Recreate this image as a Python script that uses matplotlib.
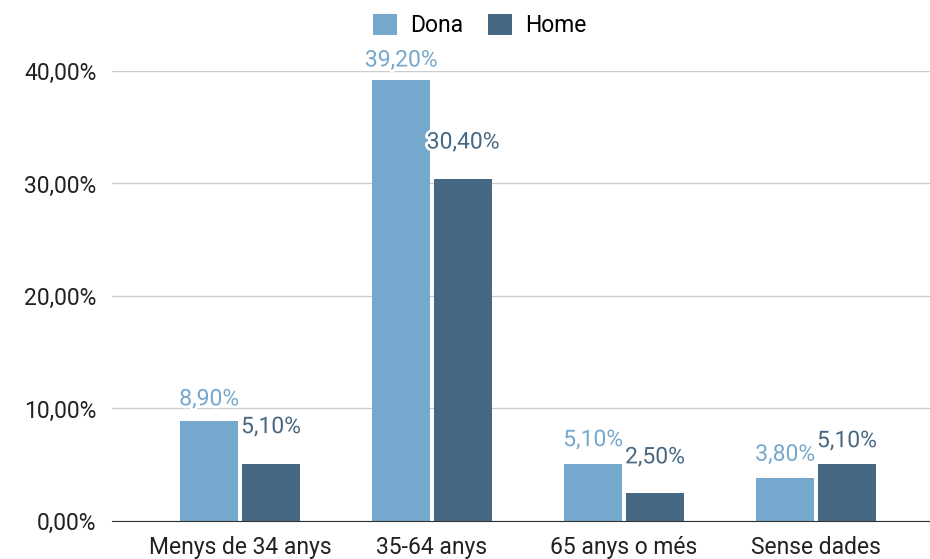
import matplotlib.pyplot as plt
import matplotlib.patheffects as pe
import numpy as np

plt.rcParams['font.family'] = ['Roboto', 'DejaVu Sans']

categories = ['Menys de 34 anys', '35-64 anys', '65 anys o més', 'Sense dades']
dona = [8.9, 39.2, 5.1, 3.8]
home = [5.1, 30.4, 2.5, 5.1]
# label offsets above bar tops (pixels), as placed in the original
dona_off = [22, 20, 24, 24]
home_off = [37, 37, 36, 23]

c_dona = '#76a7cc'
c_home = '#466883'
fs = 16.5

fig = plt.figure(figsize=(9.3, 5.59), dpi=100)
ax = fig.add_axes([0.1204, 0.068, 0.8796, 0.805])

x = np.arange(len(categories))
w = 0.302
off = 0.161
ax.bar(x - off, dona, w, color=c_dona, label='Dona', zorder=2)
ax.bar(x + off, home, w, color=c_home, label='Home', zorder=2)

outline = [pe.withStroke(linewidth=4, foreground='white')]
for i in range(len(categories)):
    ax.annotate(f'{dona[i]:.2f}%'.replace('.', ','), (x[i] - off, dona[i]),
                xytext=(0, dona_off[i] * 0.72), textcoords='offset points',
                ha='center', va='center', color=c_dona, fontsize=fs,
                path_effects=outline, zorder=4, annotation_clip=False)
    ax.annotate(f'{home[i]:.2f}%'.replace('.', ','), (x[i] + off, home[i]),
                xytext=(0, home_off[i] * 0.72), textcoords='offset points',
                ha='center', va='center', color=c_home, fontsize=fs,
                path_effects=outline, zorder=4, annotation_clip=False)

ax.set_ylim(0, 40)
ax.set_xlim(-0.667, 3.594)
ax.set_yticks([0, 10, 20, 30, 40])
ax.set_yticklabels(['0,00%', '10,00%', '20,00%', '30,00%', '40,00%'])
ax.set_xticks(x)
ax.set_xticklabels(categories)
ax.tick_params(axis='both', length=0, labelsize=fs, colors='#222222')
ax.tick_params(axis='x', pad=11)
ax.tick_params(axis='y', pad=11)
ax.grid(axis='y', color='#cccccc', linewidth=1, zorder=0)
for s in ['top', 'right', 'left']:
    ax.spines[s].set_visible(False)
ax.spines['bottom'].set_color('#333333')
ax.spines['bottom'].set_zorder(3)

fig.legend(loc='upper center', bbox_to_anchor=(0.516, 1.012), ncol=2, frameon=False,
           fontsize=fs, handlelength=1.05, handleheight=1.05, columnspacing=1.1,
           handletextpad=0.55)

plt.savefig('out.png', dpi=100)
